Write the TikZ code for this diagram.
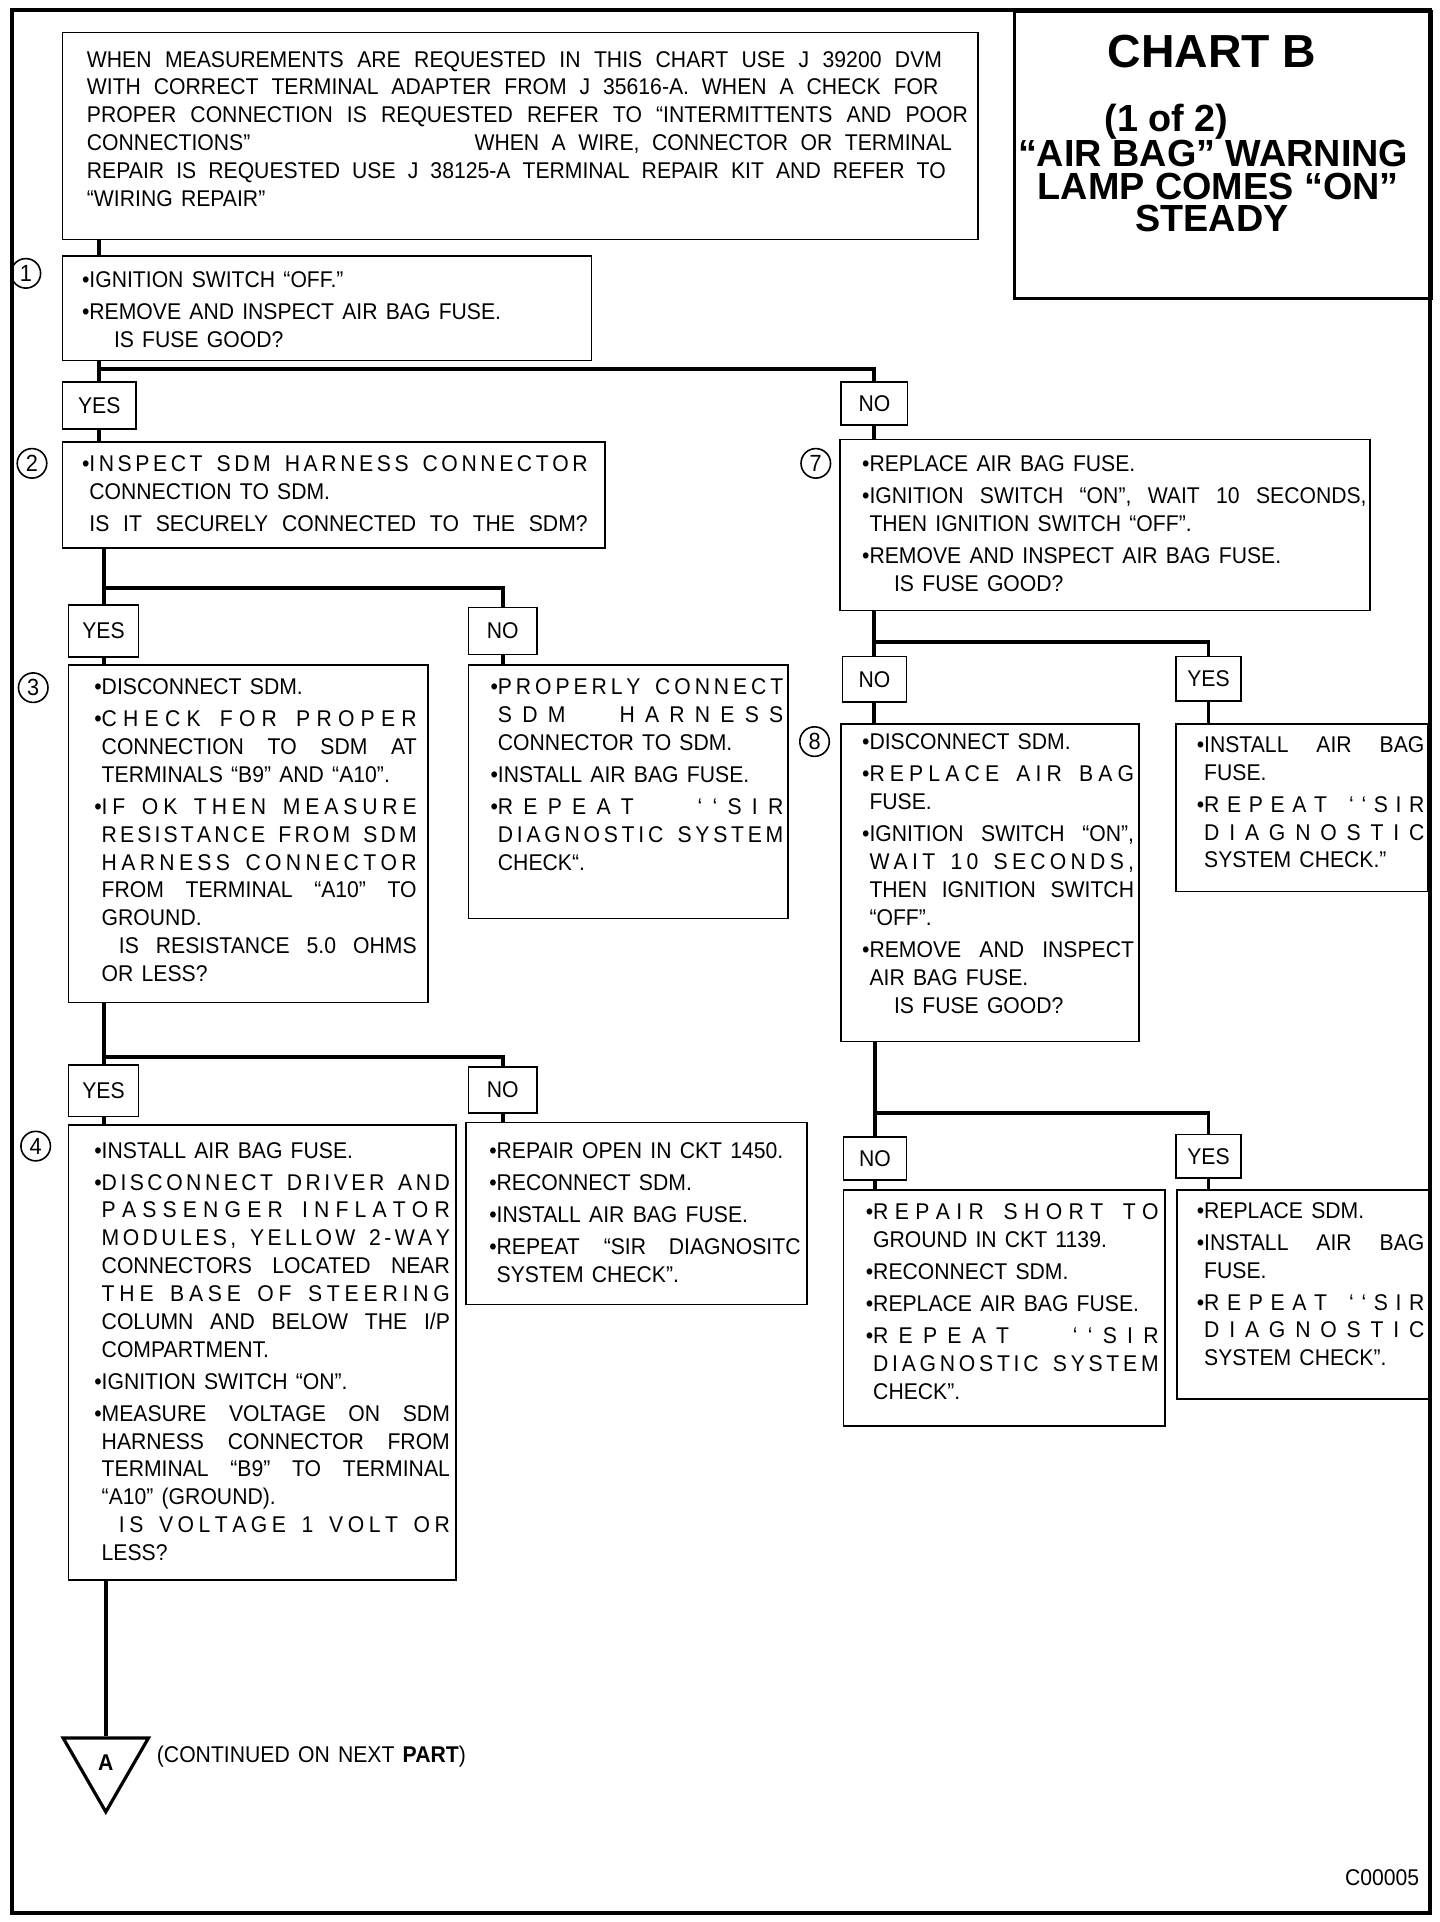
\documentclass[tikz,border=0pt]{standalone}
\usepackage{fontspec}
\setmainfont{Liberation Sans}[WordSpace=1.4, FakeStretch=0.93]
\newfontfamily\ttlfont{Liberation Sans}
\usetikzlibrary{shapes.geometric,calc}

\newlength\pl \newlength\tw \newlength\bwid

\ExplSyntaxOn
\seq_new:N \l__sp_words_seq
\bool_new:N \l__sp_first_bool
\dim_new:N \l__sp_gap_dim
\dim_new:N \l__sp_extra_dim
\int_new:N \g__sp_nl_int
\int_new:N \l__sp_nw_int
\int_new:N \l__sp_n_int
\box_new:N \l__sp_box
\cs_new_protected:Npn \__sp_word:n #1
  {
    \bool_set_true:N \l__sp_first_bool
    \tl_map_inline:nn { #1 }
      {
        \bool_if:NF \l__sp_first_bool
          { \hskip \l__sp_gap_dim \scan_stop: \int_gincr:N \g__sp_nl_int }
        \str_if_eq:nnTF { ##1 } { • }
          { \bool_set_true:N \l__sp_first_bool }
          { \bool_set_false:N \l__sp_first_bool }
        ##1
      }
  }
\cs_new_protected:Npn \__sp_out:
  {
    \seq_map_indexed_inline:Nn \l__sp_words_seq
      {
        \int_compare:nNnT { ##1 } > { 1 }
          { \hskip \dim_eval:n { 0.3em + 2\l__sp_gap_dim } plus 1fill \scan_stop: }
        \__sp_word:n { ##2 }
      }
    \hskip 0pt plus 1fil \scan_stop:
  }
\NewDocumentCommand \spreadline { m m }
  {
    \seq_set_split:Nnn \l__sp_words_seq { ~ } { #2 }
    \int_set:Nn \l__sp_nw_int { \seq_count:N \l__sp_words_seq - 1 }
    \dim_zero:N \l__sp_gap_dim
    \int_gzero:N \g__sp_nl_int
    \hbox_set:Nn \l__sp_box { \__sp_out: }
    \dim_set:Nn \l__sp_extra_dim { #1 - \box_wd:N \l__sp_box }
    \int_set:Nn \l__sp_n_int { \g__sp_nl_int + 2 * \l__sp_nw_int }
    \int_compare:nNnTF { \l__sp_n_int } > { 0 }
      { \dim_set:Nn \l__sp_gap_dim { \l__sp_extra_dim / \l__sp_n_int } }
      { \dim_zero:N \l__sp_gap_dim }
    \dim_compare:nNnT { \l__sp_gap_dim } > { 0.45em }
      { \dim_set:Nn \l__sp_gap_dim { 0.45em } }
    \dim_compare:nNnT { \l__sp_gap_dim } < { 0pt }
      { \dim_zero:N \l__sp_gap_dim }
    \hbox_to_wd:nn { #1 } { \__sp_out: }
  }
\ExplSyntaxOff

\newcommand\lR[2][0pt]{\hspace*{\dimexpr\pl+#1\relax}\mbox{#2}\par}
\newcommand\lJ[2][0pt]{\hspace*{\dimexpr\pl+#1\relax}\makebox[\dimexpr\tw-#1\relax][s]{#2}\par}
\newcommand\lS[2][0pt]{\hspace*{\dimexpr\pl+#1\relax}\spreadline{\dimexpr\tw-#1\relax}{#2}\par}
\newcommand\lW[3][0pt]{\hspace*{\dimexpr\pl+#1\relax}\makebox[#2pt][s]{#3}\par}
\newcommand\gp{\vspace{3.5pt}}
\newcommand\bodysize{\fontsize{18.5pt}{22.6pt}\selectfont}
\newcommand\bxt[6]{\parbox[c][#2pt][t]{#1pt}{%
  \bodysize
  \setlength\pl{#3pt}\setlength\tw{#4pt}\settowidth\bwid{•}%
  \lineskiplimit=-100pt \lineskip=0pt \parskip=0pt \parindent=0pt
  \mbox{}\par\vspace*{\dimexpr #5pt-\baselineskip\relax}%
  #6}}

\tikzset{
  bx/.style={draw, line width=1.3pt, inner sep=0pt, anchor=north west},
  lab/.style={draw, line width=1.3pt, inner sep=0pt, anchor=north west},
  num/.style={circle, draw, line width=1.3pt, minimum size=24pt, inner sep=0pt, font=\fontsize{19pt}{20pt}\selectfont},
  conn/.style={line width=3.2pt},
  ttl/.style={anchor=base, inner sep=0pt, font=\ttlfont\bfseries\fontsize{30.7pt}{32pt}\selectfont}
}

\begin{document}
\begin{tikzpicture}[x=1pt, y=-0.9962pt, font=\bodysize]
\useasboundingbox (0,0) rectangle (1170,1568);
\fill[white] (0,0) rectangle (1170,1568);
\draw[line width=3.2pt] (10,8) rectangle (1162,1561);

% title
\node[draw, line width=2.6pt, anchor=north west, minimum width=339pt, minimum height=233pt, inner sep=0pt] (tbox) at (823,8) {};
\node[ttl, font=\ttlfont\bfseries\fontsize{37.7pt}{40pt}\selectfont] (t1) at (985,55) {CHART B};
\node[ttl] (t2) at (948,107) {(1 of 2)};
\node[ttl] (t3) at (986,136) {“AIR BAG” WARNING};
\node[ttl] (t4) at (990,163) {LAMP COMES “ON”};
\node[ttl] (t5) at (985,189) {STEADY};

% header
\node[bx] (hdr) at (50,26) {\bxt{744}{168}{20}{0}{28}{%
\lW{695}{WHEN MEASUREMENTS ARE REQUESTED IN THIS CHART USE J 39200 DVM}
\lW{692}{WITH CORRECT TERMINAL ADAPTER FROM J 35616-A. WHEN A CHECK FOR}
\lW{716}{PROPER CONNECTION IS REQUESTED REFER TO “INTERMITTENTS AND POOR}
\lW{703}{\makebox[315pt][l]{CONNECTIONS”}WHEN A WIRE, CONNECTOR OR TERMINAL}
\lW{698}{REPAIR IS REQUESTED USE J 38125-A TERMINAL REPAIR KIT AND REFER TO}
\lR{“WIRING REPAIR”}}};

% step 1
\node[num] (c1) at (21,223) {1};
\node[bx] (b1) at (50,208) {\bxt{430}{85}{16}{400}{26}{%
\lR{•IGNITION SWITCH “OFF.”}\gp
\lR{•REMOVE AND INSPECT AIR BAG FUSE.}
\lR[26pt]{IS FUSE GOOD?}}};

\node[lab, minimum width=60pt, minimum height=38pt] (yes1) at (50,311) {YES};
\node[lab, minimum width=54pt, minimum height=35pt] (no1) at (683,311) {NO};

% step 2
\node[num] (c2) at (26,378) {2};
\node[bx] (b2) at (50,360) {\bxt{441}{86}{16}{411}{24}{%
\lS{•INSPECT SDM HARNESS CONNECTOR}
\lR[\bwid]{CONNECTION TO SDM.}\gp
\lJ[\bwid]{IS IT SECURELY CONNECTED TO THE SDM?}}};

\node[lab, minimum width=57pt, minimum height=42pt] (yes2) at (55,493) {YES};
\node[lab, minimum width=56pt, minimum height=38pt] (no2) at (380,495) {NO};

% step 3
\node[num] (c3) at (27,561) {3};
\node[bx] (b3) at (55,542) {\bxt{292}{274}{21}{262}{24}{%
\lR{•DISCONNECT SDM.}\gp
\lS{•CHECK FOR PROPER}
\lJ[\bwid]{CONNECTION TO SDM AT}
\lR[\bwid]{TERMINALS “B9” AND “A10”.}\gp
\lS{•IF OK THEN MEASURE}
\lS[\bwid]{RESISTANCE FROM SDM}
\lS[\bwid]{HARNESS CONNECTOR}
\lJ[\bwid]{FROM TERMINAL “A10” TO}
\lR[\bwid]{GROUND.}
\lJ[20pt]{IS RESISTANCE 5.0 OHMS}
\lR[\bwid]{OR LESS?}}};

\node[bx] (nb2) at (380,542) {\bxt{260}{206}{18}{238}{24}{%
\lS{•PROPERLY CONNECT}
\lS[\bwid]{SDM HARNESS}
\lR[\bwid]{CONNECTOR TO SDM.}\gp
\lR{•INSTALL AIR BAG FUSE.}\gp
\lS{•REPEAT ‘‘SIR}
\lS[\bwid]{DIAGNOSTIC SYSTEM}
\lR[\bwid]{CHECK“.}}};

\node[lab, minimum width=57pt, minimum height=42pt] (yes3) at (55,868) {YES};
\node[lab, minimum width=56pt, minimum height=37pt] (no3) at (380,870) {NO};

% step 4
\node[num] (c4) at (29,935) {4};
\node[bx] (b4) at (55,917) {\bxt{315}{370}{21}{289}{27}{%
\lR{•INSTALL AIR BAG FUSE.}\gp
\lS{•DISCONNECT DRIVER AND}
\lS[\bwid]{PASSENGER INFLATOR}
\lS[\bwid]{MODULES, YELLOW 2-WAY}
\lJ[\bwid]{CONNECTORS LOCATED NEAR}
\lS[\bwid]{THE BASE OF STEERING}
\lJ[\bwid]{COLUMN AND BELOW THE I/P}
\lR[\bwid]{COMPARTMENT.}\gp
\lR{•IGNITION SWITCH “ON”.}\gp
\lJ{•MEASURE VOLTAGE ON SDM}
\lJ[\bwid]{HARNESS CONNECTOR FROM}
\lJ[\bwid]{TERMINAL “B9” TO TERMINAL}
\lR[\bwid]{“A10” (GROUND).}
\lS[20pt]{IS VOLTAGE 1 VOLT OR}
\lR[\bwid]{LESS?}}};

\node[bx] (nb3) at (378,915) {\bxt{277}{148}{19}{253}{29}{%
\lR{•REPAIR OPEN IN CKT 1450.}\gp
\lR{•RECONNECT SDM.}\gp
\lR{•INSTALL AIR BAG FUSE.}\gp
\lJ{•REPEAT “SIR\quad DIAGNOSITC}
\lR[\bwid]{SYSTEM CHECK”.}}};

% step 7
\node[num] (c7) at (663,378) {7};
\node[bx] (b7) at (682,358) {\bxt{431}{139}{18}{410}{26}{%
\lR{•REPLACE AIR BAG FUSE.}\gp
\lJ{•IGNITION SWITCH “ON”, WAIT 10 SECONDS,}
\lR[\bwid]{THEN IGNITION SWITCH “OFF”.}\gp
\lR{•REMOVE AND INSPECT AIR BAG FUSE.}
\lR[26pt]{IS FUSE GOOD?}}};

\node[lab, minimum width=52pt, minimum height=37pt] (no7) at (684,535) {NO};
\node[lab, minimum width=53pt, minimum height=36pt] (yes7l) at (955,535) {YES};

% step 8
\node[num] (c8) at (662,605) {8};
\node[bx] (b8) at (683,590) {\bxt{242}{258}{17}{221}{21}{%
\lR{•DISCONNECT SDM.}\gp
\lS{•REPLACE AIR BAG}
\lR[\bwid]{FUSE.}\gp
\lJ{•IGNITION SWITCH “ON”,}
\lS[\bwid]{WAIT 10 SECONDS,}
\lJ[\bwid]{THEN IGNITION SWITCH}
\lR[\bwid]{“OFF”.}\gp
\lJ{•REMOVE AND INSPECT}
\lR[\bwid]{AIR BAG FUSE.}
\lR[26pt]{IS FUSE GOOD?}}};

\node[bx] (yb7) at (955,590) {\bxt{205}{136}{17}{185}{23}{%
\lJ{•INSTALL AIR BAG}
\lR[\bwid]{FUSE.}\gp
\lS{•REPEAT ‘‘SIR}
\lS[\bwid]{DIAGNOSTIC}
\lR[\bwid]{SYSTEM CHECK.”}}};

\node[lab, minimum width=51pt, minimum height=35pt] (no8l) at (685,927) {NO};
\node[lab, minimum width=53pt, minimum height=35pt] (yes8l) at (955,925) {YES};

\node[bx] (nb8) at (685,970) {\bxt{261}{192}{18}{238}{24}{%
\lS{•REPAIR SHORT TO}
\lR[\bwid]{GROUND IN CKT 1139.}\gp
\lR{•RECONNECT SDM.}\gp
\lR{•REPLACE AIR BAG FUSE.}\gp
\lS{•REPEAT ‘‘SIR}
\lS[\bwid]{DIAGNOSTIC SYSTEM}
\lR[\bwid]{CHECK”.}}};

\node[bx] (yb8) at (956,970) {\bxt{205}{170}{16}{185}{23}{%
\lR{•REPLACE SDM.}\gp
\lJ{•INSTALL AIR BAG}
\lR[\bwid]{FUSE.}\gp
\lS{•REPEAT ‘‘SIR}
\lS[\bwid]{DIAGNOSTIC}
\lR[\bwid]{SYSTEM CHECK”.}}};

% continuation
\node[regular polygon, regular polygon sides=3, shape border rotate=180, draw, line width=2.6pt, minimum size=80pt, inner sep=0pt, font=\bfseries\fontsize{18.5pt}{20pt}\selectfont] (tri) at (86,1438) {A};
\node[anchor=west] (cont) at (124,1433) {(CONTINUED ON NEXT \textbf{PART})};
\node[anchor=east] (code) at (1157,1532) {C00005};

% junctions
\coordinate (j1) at ($(yes1.north)+(0,-10)$);
\coordinate (j2) at ($(yes2.north)+(0,-13)$);
\coordinate (j3) at ($(yes3.north)+(0,-6)$);
\coordinate (j7) at ($(no7.north)+(0,-11)$);
\coordinate (j8) at ($(no8l.north)+(0,-19)$);

% connectors
\draw[conn] (hdr.south -| yes1.north) -- (b1.north -| yes1.north);
\draw[conn] (b1.south -| yes1.north) -- (yes1.north);
\draw[conn] (j1) -| (no1.north);
\draw[conn] (yes1.south) -- (b2.north -| yes1.south);
\draw[conn] (no1.south) -- (b7.north -| no1.south);

\draw[conn] (b2.south -| yes2.north) -- (yes2.north);
\draw[conn] (j2) -| (no2.north);
\draw[conn] (yes2.south) -- (b3.north -| yes2.south);
\draw[conn] (no2.south) -- (nb2.north -| no2.south);

\draw[conn] (b3.south -| yes3.north) -- (yes3.north);
\draw[conn] (j3) -| (no3.north);
\draw[conn] (yes3.south) -- (b4.north -| yes3.south);
\draw[conn] (no3.south) -- (nb3.north -| no3.south);

\draw[conn] (b4.south -| tri.north) -- (tri.north);

\draw[conn] (b7.south -| no7.north) -- (no7.north);
\draw[conn] (j7) -| (yes7l.north);
\draw[conn] (no7.south) -- (b8.north -| no7.south);
\draw[conn] (yes7l.south) -- (yb7.north -| yes7l.south);

\draw[conn] (b8.south -| no8l.north) -- (no8l.north);
\draw[conn] (j8) -| (yes8l.north);
\draw[conn] (no8l.south) -- (nb8.north -| no8l.south);
\draw[conn] (yes8l.south) -- (yb8.north -| yes8l.south);
\end{tikzpicture}
\end{document}
